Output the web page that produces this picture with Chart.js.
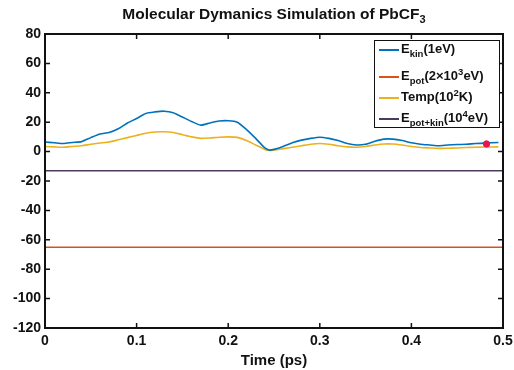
<!DOCTYPE html>
<html>
<head>
<meta charset="utf-8">
<script src="https://cdn.jsdelivr.net/npm/chart.js@4"></script>
<style>
body{margin:0;background:#fff;font-family:"Liberation Sans",Arial,sans-serif;}
#wrap{position:relative;width:514px;height:370px;}
#title{position:absolute;left:45px;width:458px;top:5px;text-align:center;font-weight:bold;font-size:15.5px;color:#111;}
#legend{position:absolute;left:374px;top:40px;width:124px;height:86px;border:1px solid #111;background:#fff;font-weight:bold;font-size:13px;color:#111;}
#legend .row{position:absolute;left:4px;height:20px;line-height:20px;white-space:nowrap;}
#legend .sw{display:inline-block;width:20px;height:2px;vertical-align:middle;margin-right:2px;}
#legend sub,#legend sup{font-size:9.5px;}
</style>
</head>
<body>
<div id="wrap">
<canvas id="chartCanvas" width="514" height="370"></canvas>
<div id="title">Molecular Dymanics Simulation of PbCF<sub style="font-size:11px">3</sub></div>
<div id="legend"></div>
</div>
<script>
//data
const timeValues=[0,0.01,0.02,0.03,0.04,0.05,0.06,0.07,0.08,0.09,0.10,0.11,0.12,0.13,0.14,0.15,0.16,0.17,0.18,0.19,0.20,0.21,0.22,0.23,0.24,0.245,0.25,0.26,0.27,0.28,0.29,0.30,0.31,0.32,0.33,0.34,0.35,0.36,0.37,0.38,0.39,0.40,0.41,0.42,0.43,0.44,0.45,0.46,0.47,0.48,0.495];
const ekinValues=[6.5,6.0,5.5,6.2,6.8,9.5,12.0,13.0,15.5,19.5,22.5,26.0,27.0,27.5,26.5,23.5,20.5,18.0,19.5,20.8,21.0,20.0,15.0,9.0,2.5,1.0,1.5,3.5,6.0,7.8,9.0,9.8,9.0,7.5,5.5,4.5,5.0,7.0,8.5,8.5,7.5,6.0,5.0,4.5,4.0,4.5,4.8,5.0,5.5,5.8,6.2];
const tempValues=[3.5,3.2,3.0,3.5,4.0,5.0,5.8,6.5,8.0,9.5,11.0,12.5,13.3,13.5,13.0,11.5,10.0,9.0,9.3,9.8,10.0,9.7,7.5,4.5,1.5,0.8,1.0,2.0,3.0,4.0,5.0,5.5,5.0,4.0,3.2,3.0,3.5,4.5,5.2,5.2,4.5,3.5,2.8,2.5,2.2,2.3,2.5,2.8,3.0,3.1,3.2];
const epotTimes=[0,0.5];
const epotValues=[-65,-65];
const etotTimes=[0,0.5];
const etotValues=[-13,-13];
const markerTime=[0.482];
const markerValue=[5.2];
const legendLabels=['E<sub>kin</sub>(1eV)','E<sub>pot</sub>(2&times;10<sup>3</sup>eV)','Temp(10<sup>2</sup>K)','E<sub>pot+kin</sub>(10<sup>4</sup>eV)'];
const seriesColors=['#0072bd','#d95319','#edb120','#4b3a5c'];
const xTicks=[0,0.1,0.2,0.3,0.4,0.5];
const yTicks=[-120,-100,-80,-60,-40,-20,0,20,40,60,80];

function toPoints(xs,ys){
    return xs.map((x,i)=>({x:x,y:ys[i]}));
}

//inward ticks + box
const boxTicks={
    id:'boxTicks',
    afterDraw(chart){
        const ctx=chart.ctx;
        const a=chart.chartArea;
        const xs=chart.scales.x, ys=chart.scales.y;
        ctx.save();
        ctx.strokeStyle='#111';
        ctx.lineWidth=1.5;
        xTicks.forEach(v=>{
            const px=xs.getPixelForValue(v);
            ctx.beginPath();
            ctx.moveTo(px,a.bottom);ctx.lineTo(px,a.bottom-5);
            ctx.moveTo(px,a.top);ctx.lineTo(px,a.top+5);
            ctx.stroke();
        });
        yTicks.forEach(v=>{
            const py=ys.getPixelForValue(v);
            ctx.beginPath();
            ctx.moveTo(a.left,py);ctx.lineTo(a.left+5,py);
            ctx.moveTo(a.right,py);ctx.lineTo(a.right-5,py);
            ctx.stroke();
        });
        ctx.lineWidth=2;
        ctx.strokeRect(a.left,a.top,a.right-a.left,a.bottom-a.top);
        ctx.restore();
    }
};

const data={
    datasets:[
        {label:'Ekin',data:toPoints(timeValues,ekinValues),borderColor:seriesColors[0],borderWidth:1.6,pointRadius:0,tension:0.2},
        {label:'Epot',data:toPoints(epotTimes,epotValues),borderColor:seriesColors[1],borderWidth:1.5,pointRadius:0},
        {label:'Temp',data:toPoints(timeValues,tempValues),borderColor:seriesColors[2],borderWidth:1.6,pointRadius:0,tension:0.2},
        {label:'Etot',data:toPoints(etotTimes,etotValues),borderColor:seriesColors[3],borderWidth:1.5,pointRadius:0},
        {label:'marker',order:-1,data:toPoints(markerTime,markerValue),showLine:false,pointRadius:3.2,pointBackgroundColor:'#e8174a',pointBorderColor:'#e8174a',pointStyle:'circle'}
    ]
};

const tickFont={family:'Liberation Sans',weight:'bold',size:14};

const config={
    type:'line',
    data:data,
    options:{
        responsive:false,
        animation:false,
        layout:{padding:{top:34,right:11,left:0,bottom:0}},
        plugins:{legend:{display:false},tooltip:{enabled:false}},
        scales:{
            x:{
                type:'linear',min:0,max:0.5,
                afterBuildTicks(s){s.ticks=xTicks.map(v=>({value:v}));},
                afterFit(s){s.height=42;},
                ticks:{color:'#111',font:tickFont,padding:-3,maxRotation:0,
                    callback:v=>v===0?'0':String(v)},
                grid:{display:false},border:{display:false},
                title:{display:true,text:'Time (ps)',color:'#111',font:{family:'Liberation Sans',weight:'bold',size:15},padding:{top:0,bottom:0}}
            },
            y:{
                min:-120,max:80,
                afterBuildTicks(s){s.ticks=yTicks.map(v=>({value:v}));},
                afterFit(s){s.width=45;},
                ticks:{color:'#111',font:tickFont,padding:-4},
                grid:{display:false},border:{display:false}
            }
        }
    },
    plugins:[boxTicks]
};

const myChart=new Chart(document.getElementById('chartCanvas'),config);

//html legend (sub/superscripts)
const legendBox=document.getElementById('legend');
const rowTops=[-2,21,42,63];
legendLabels.forEach((lbl,i)=>{
    const row=document.createElement('div');
    row.className='row';
    row.style.top=rowTops[i]+'px';
    row.innerHTML='<span class="sw" style="background:'+seriesColors[i]+'"></span>'+lbl;
    legendBox.appendChild(row);
});
</script>
</body>
</html>
